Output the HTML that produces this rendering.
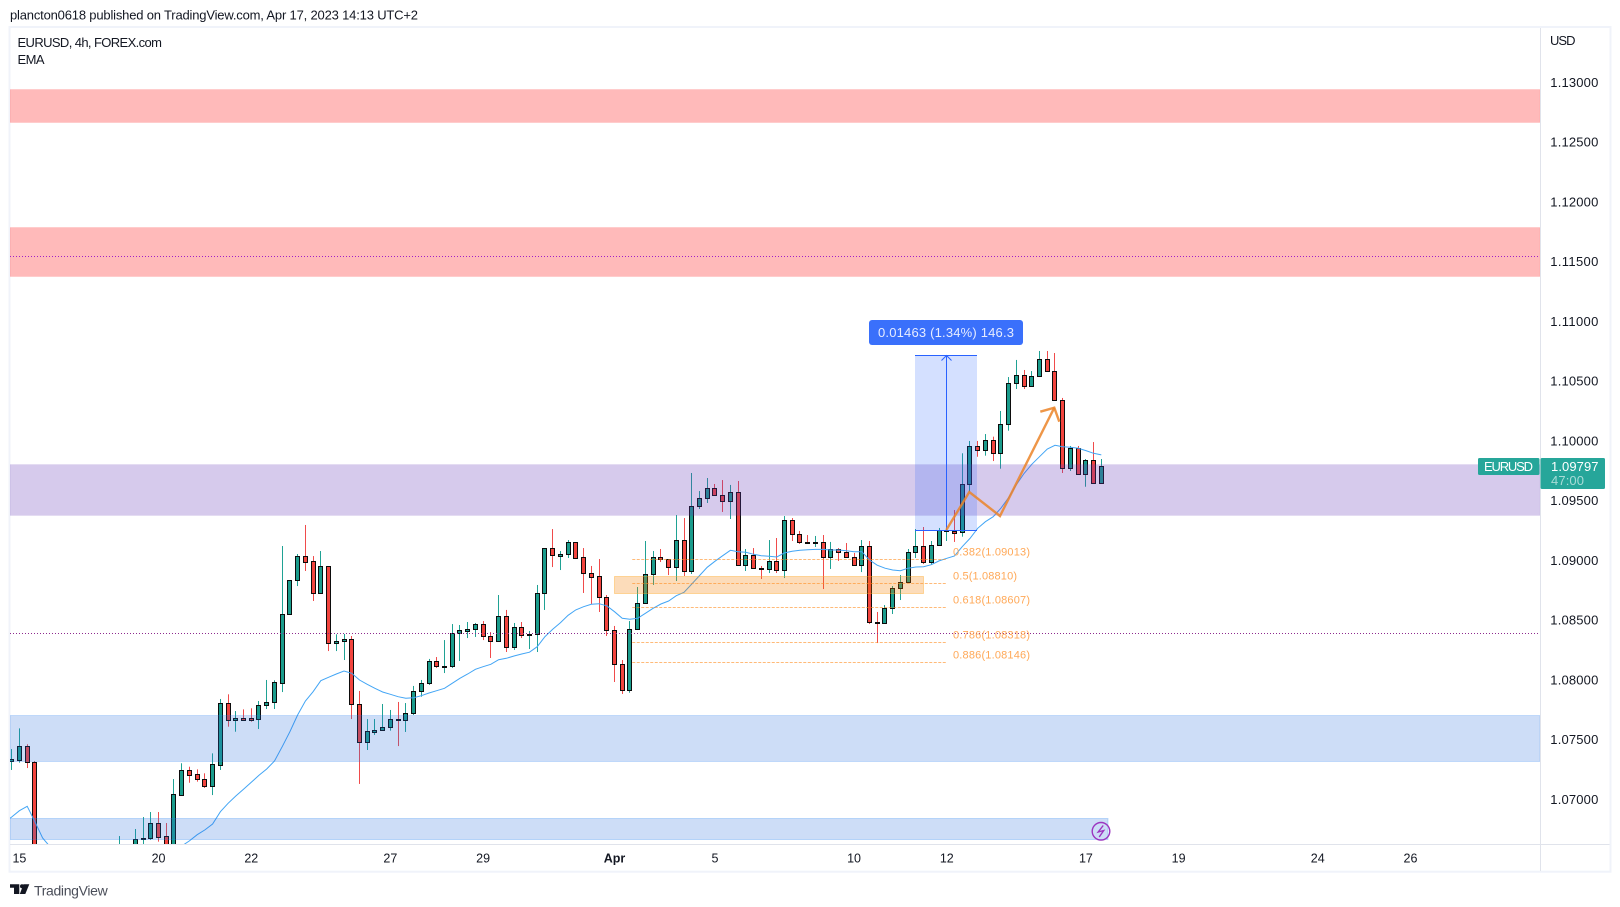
<!DOCTYPE html>
<html lang="en">
<head>
<meta charset="utf-8">
<title>EURUSD 4h chart</title>
<style>
html,body{margin:0;padding:0;background:#fff;width:1620px;height:907px;overflow:hidden}
svg{display:block}
text{font-family:"Liberation Sans",sans-serif;fill:#131722}
</style>
</head>
<body>
<svg id="chart" xmlns="http://www.w3.org/2000/svg" width="1620" height="907" viewBox="0 0 1620 907">
  <defs><clipPath id="plot-clip"><rect x="10" y="28" width="1530.5" height="816.5"/></clipPath></defs>
  <rect x="0" y="0" width="1620" height="907" fill="#ffffff"/>
  <text x="10" y="19.5" font-size="13" textLength="408" lengthAdjust="spacing">plancton0618 published on TradingView.com, Apr 17, 2023 14:13 UTC+2</text>
  <rect x="9.5" y="27" width="1601" height="844.7" fill="#ffffff" stroke="#f0f3fa" stroke-width="2"/>

  <g id="plot" clip-path="url(#plot-clip)">
    <g id="candles"></g>
    <g id="ema"></g>
    <g>
      <rect x="10" y="89.5" width="1530" height="33" fill="rgba(255,82,82,.4)" stroke="rgba(255,82,82,.12)"/>
      <rect x="10" y="227.5" width="1530" height="49" fill="rgba(255,82,82,.4)" stroke="rgba(255,82,82,.12)"/>
      <rect x="10" y="464.5" width="1530" height="51" fill="rgba(103,58,183,.27)" stroke="rgba(103,58,183,.05)"/>
      <rect x="10" y="715.5" width="1530" height="46" fill="rgba(41,110,220,.23)" stroke="rgba(33,130,243,.2)"/>
      <rect x="10" y="818.5" width="1098" height="21" fill="rgba(41,110,220,.23)" stroke="rgba(33,130,243,.25)"/>
      <line x1="10" x2="1540" y1="256.5" y2="256.5" stroke="#a020c8" stroke-width="1" stroke-dasharray="1 2"/>
      <line x1="10" x2="1540" y1="633.5" y2="633.5" stroke="#8e2a8e" stroke-width="1" stroke-dasharray="1 2"/>
      <rect x="614.5" y="576.5" width="309" height="17" fill="rgba(245,124,0,.27)" stroke="rgba(255,167,38,.4)"/>
      <g id="fib"></g>
      <rect x="915" y="355" width="62" height="175.5" fill="rgba(41,98,255,.2)"/>
      <line x1="915" x2="977" y1="355.5" y2="355.5" stroke="#2962ff" stroke-width="1"/>
      <line x1="915" x2="977" y1="530.5" y2="530.5" stroke="#2962ff" stroke-width="1"/>
      <line x1="946.5" x2="946.5" y1="356" y2="530" stroke="#2962ff" stroke-width="1"/>
      <path d="M941.5 360.5 L946.5 355.5 L951.5 360.5" fill="none" stroke="#2962ff" stroke-width="1"/>
      <polyline points="946.3,530 969.3,492 1000,516 1054.3,407.7" fill="none" stroke="rgba(235,132,40,.85)" stroke-width="2.4"/>
      <polyline points="1040.3,411.7 1054.3,407.7 1059.3,421.7" fill="none" stroke="rgba(235,132,40,.85)" stroke-width="2.4"/>
      <circle cx="1101" cy="831.3" r="8.8" fill="none" stroke="#9c36c0" stroke-width="1.4"/>
      <path d="M1103.2 825.5 L1098.2 832 L1103.7 830.5 L1099.2 837" fill="none" stroke="#9c36c0" stroke-width="1.4"/>
    </g>
  </g>

  <rect x="869" y="320" width="154" height="25" rx="3" fill="#3a70fb"/>
  <text x="878" y="337" font-size="13" textLength="136" lengthAdjust="spacing" style="fill:#e6ecff">0.01463 (1.34%) 146.3</text>

  <line x1="1540.5" x2="1540.5" y1="28" y2="871" stroke="#e0e3eb" stroke-width="1"/>
  <line x1="10" x2="1609.5" y1="844.5" y2="844.5" stroke="#e0e3eb" stroke-width="1"/>
  <g id="price-axis"></g>
  <g id="time-axis"></g>

  <text x="17.5" y="47" font-size="13" textLength="144.5" lengthAdjust="spacing">EURUSD, 4h, FOREX.com</text>
  <text x="17.5" y="64" font-size="13" textLength="27" lengthAdjust="spacing">EMA</text>
  <text x="1550" y="45" font-size="13" textLength="25.5" lengthAdjust="spacing">USD</text>

  <rect x="1478" y="458" width="61.5" height="17" rx="1.5" fill="#26a69a"/>
  <text x="1484" y="471" font-size="13" textLength="49" lengthAdjust="spacing" style="fill:#ffffff">EURUSD</text>
  <rect x="1540.5" y="458" width="64.5" height="31" rx="1.5" fill="#26a69a"/>
  <text x="1551" y="471" font-size="13" textLength="47.5" lengthAdjust="spacing" style="fill:#ffffff">1.09797</text>
  <text x="1551" y="485" font-size="13" textLength="33" lengthAdjust="spacing" style="fill:#ffffff;fill-opacity:.6">47:00</text>

  <g fill="#131722">
    <polygon points="10,884.3 19.3,884.3 19.3,894 14,894 14,887.8 10,887.8"/>
    <circle cx="22" cy="886.2" r="2"/>
    <polygon points="23.5,884.3 29.3,884.3 25.3,894 19.8,894"/>
  </g>
  <text x="34" y="895.5" font-size="14" textLength="73.7" lengthAdjust="spacing" style="fill:#4a4e59">TradingView</text>
</svg>

<script>
const opens = [
1.0733,1.07341,1.07453,1.07319,1.06334,1.0620,1.0615,1.0622,1.0618,1.0625,
1.0621,1.0630,1.0636,1.0640,1.0648,1.0655,1.0650,1.06675,1.06683,1.06809,
1.067,1.06543,1.07045,1.07252,1.07219,1.07177,1.07123,1.07299,1.07813,1.07677,
1.07687,1.07687,1.07684,1.07801,1.07821,1.07985,1.08558,1.08842,1.09043,1.09001,
1.08733,1.08959,1.08315,1.08332,1.08348,1.07805,1.07493,1.07575,1.07587,1.07612,
1.07679,1.0767,1.07729,1.07913,1.0798,1.08164,1.08117,1.08122,1.08398,1.0842,
1.08432,1.08474,1.08373,1.08332,1.08541,1.08281,1.08449,1.08382,1.0839,1.08733,
1.0911,1.09048,1.0906,1.0916,1.09035,1.08901,1.08875,1.087,1.08424,1.08139,
1.07927,1.08432,1.0865,1.08892,1.09035,1.09018,1.08951,1.09177,1.08917,1.09461,
1.09528,1.09612,1.09553,1.09508,1.09578,1.08968,1.09051,1.08943,1.08934,1.09001,
1.08926,1.09344,1.09227,1.0916,1.09152,1.0916,1.09035,1.09101,1.09076,1.09035,
1.08968,1.09127,1.08491,1.08482,1.08608,1.08775,1.08825,1.09076,1.09127,1.08993,
1.09135,1.09255,1.09257,1.09246,1.09645,1.09963,1.0993,1.10019,1.09905,1.10147,
1.10491,1.10558,1.10465,1.10549,1.10691,1.10591,1.10348,1.09779,1.09947,1.09729,
1.09846,1.09654];
const closes = [
1.07344,1.07453,1.07319,1.06334,1.0620,1.0615,1.0622,1.0618,1.0625,1.0621,
1.0630,1.0636,1.0640,1.0648,1.0655,1.0650,1.06675,1.06683,1.06809,1.06697,
1.06543,1.07051,1.07252,1.07215,1.07177,1.07123,1.07302,1.07813,1.07676,1.07686,
1.07676,1.07676,1.07801,1.07821,1.07989,1.08558,1.08842,1.09043,1.08998,1.08733,
1.08959,1.08315,1.08332,1.08348,1.07805,1.07493,1.07578,1.07587,1.07612,1.07679,
1.0767,1.07729,1.07913,1.0798,1.08164,1.08122,1.08125,1.08398,1.08424,1.08432,
1.08474,1.08373,1.08332,1.08541,1.08281,1.08449,1.08382,1.0839,1.08733,1.0911,
1.09051,1.0906,1.0916,1.09031,1.08901,1.08872,1.087,1.08424,1.08139,1.07927,
1.08432,1.0865,1.08892,1.09035,1.09018,1.08951,1.09177,1.08917,1.09461,1.09528,
1.09612,1.09553,1.09508,1.09578,1.08968,1.09051,1.08943,1.08934,1.09001,1.08926,
1.09344,1.09227,1.0916,1.09152,1.0916,1.09035,1.09101,1.09076,1.09035,1.08968,
1.09127,1.08491,1.08482,1.08608,1.08775,1.08825,1.09076,1.09127,1.08993,1.09135,
1.09259,1.09263,1.0924,1.09645,1.09963,1.0993,1.10019,1.09905,1.10147,1.10491,
1.10558,1.10465,1.10549,1.10691,1.10591,1.10348,1.09779,1.09947,1.09729,1.09846,
1.09654,1.09796];
const highs = [
1.0743,1.07603,1.0747,1.0733,1.0640,1.0628,1.0625,1.0630,1.0628,1.0632,
1.0634,1.0640,1.0645,1.0652,1.06702,1.0660,1.06761,1.06861,1.06903,1.06903,
1.06811,1.07179,1.07311,1.07282,1.0726,1.07227,1.07394,1.07849,1.07888,1.07748,
1.07762,1.07771,1.07832,1.08008,1.08005,1.09129,1.08842,1.09062,1.09305,1.09045,
1.09087,1.08959,1.0839,1.08393,1.08376,1.07916,1.07681,1.07681,1.07807,1.07757,
1.07824,1.07815,1.07958,1.08008,1.08184,1.082,1.08342,1.08476,1.08468,1.08493,
1.08485,1.08501,1.08409,1.08719,1.08594,1.08485,1.08493,1.08418,1.08803,1.0911,
1.09271,1.09087,1.09179,1.0916,1.09112,1.08962,1.0902,1.08719,1.0846,1.08175,
1.08501,1.08786,1.09171,1.09087,1.09104,1.09018,1.09388,1.09363,1.0974,1.09589,
1.09698,1.09648,1.09681,1.0964,1.09673,1.09104,1.09112,1.08962,1.09179,1.09196,
1.0938,1.09363,1.09255,1.09221,1.09213,1.09221,1.09163,1.09112,1.09154,1.09071,
1.09179,1.09171,1.08577,1.08635,1.08794,1.08886,1.09104,1.09271,1.09288,1.09171,
1.0928,1.09288,1.0943,1.09905,1.10008,1.10008,1.10066,1.10044,1.10259,1.10543,
1.10686,1.10602,1.10593,1.10761,1.10761,1.10744,1.10368,1.09966,1.09966,1.09857,
1.09999,1.09857];
const lows = [
1.07255,1.07316,1.07271,1.0625,1.0612,1.0608,1.0605,1.0612,1.0610,1.0616,
1.0614,1.0622,1.0628,1.0632,1.0642,1.0645,1.0645,1.06619,1.06669,1.06655,
1.06501,1.06501,1.0704,1.07148,1.07157,1.07104,1.07045,1.07255,1.07617,1.07575,
1.07667,1.07659,1.07598,1.07765,1.07765,1.07907,1.08558,1.08794,1.0892,1.08669,
1.08733,1.0825,1.0825,1.08175,1.07681,1.07138,1.07422,1.07548,1.07587,1.07584,
1.07455,1.07573,1.07715,1.07868,1.07966,1.08108,1.08066,1.08108,1.08167,1.08359,
1.08368,1.08342,1.08192,1.08332,1.08242,1.08259,1.08359,1.08267,1.08242,1.08594,
1.08953,1.08928,1.09029,1.0902,1.08736,1.08644,1.08577,1.08376,1.07991,1.07891,
1.07901,1.08432,1.0865,1.08803,1.08995,1.08886,1.08836,1.08878,1.08895,1.09439,
1.09489,1.09553,1.09414,1.09355,1.08968,1.0892,1.08943,1.08853,1.08903,1.08903,
1.08861,1.09171,1.09146,1.09152,1.09121,1.08769,1.08937,1.09004,1.09035,1.08968,
1.08911,1.08476,1.08317,1.08482,1.0856,1.08677,1.08825,1.09029,1.08978,1.0897,
1.09129,1.09171,1.09163,1.09207,1.09583,1.09876,1.09885,1.0984,1.09776,1.10094,
1.10443,1.10443,1.10465,1.10543,1.10591,1.10348,1.0974,1.09757,1.09729,1.09625,
1.09654,1.09654];
const emaValues = [
1.06861,1.06914,1.06951,1.06822,1.06686,1.0661,1.0655,1.0650,1.0646,1.0642,
1.0640,1.0638,1.0637,1.0637,1.0638,1.0639,1.0641,1.0643,1.0646,1.0649,
1.0652,1.0655,1.06619,1.06661,1.06713,1.06753,1.06803,1.06906,1.06976,1.07037,
1.07093,1.07152,1.0721,1.07263,1.0733,1.0745,1.07575,1.07715,1.07832,1.0791,
1.08002,1.0803,1.08058,1.08083,1.08064,1.08008,1.07972,1.07938,1.07907,1.07888,
1.07868,1.07855,1.0786,1.07876,1.07899,1.07918,1.07938,1.0798,1.08022,1.08058,
1.08097,1.08119,1.08139,1.08178,1.08189,1.08209,1.08225,1.0824,1.08286,1.0837,
1.08432,1.08487,1.08549,1.08594,1.08621,1.08641,1.08646,1.08629,1.08579,1.08524,
1.08516,1.08524,1.08566,1.08608,1.08644,1.08669,1.08713,1.08742,1.08811,1.08881,
1.08951,1.09001,1.09048,1.09093,1.09081,1.09076,1.0906,1.09048,1.09043,1.09037,
1.09071,1.09085,1.09093,1.09098,1.09101,1.09101,1.09096,1.09096,1.0909,1.09081,
1.09081,1.09012,1.08968,1.08943,1.08928,1.08922,1.08943,1.08953,1.08956,1.08973,
1.09004,1.09026,1.09045,1.09123,1.09193,1.09277,1.09332,1.09374,1.09445,1.09533,
1.0964,1.09737,1.09813,1.09876,1.09941,1.09972,1.0996,1.09955,1.09947,1.09927,
1.09905,1.09891];
const priceTicks = ["1.13000","1.12500","1.12000","1.11500","1.11000","1.10500","1.10000","1.09500","1.09000","1.08500","1.08000","1.07500","1.07000"];
const timeLabels = ["15","20","22","27","29","Apr","5","10","12","17","19","24","26"];
const timeLabelBars = [1,19,31,49,61,78,91,109,121,139,151,169,181];
const fibLevels = [1.09013,1.08810,1.08607,1.08318,1.08146];
const fibRatios = ["0.382","0.5","0.618","0.786","0.886"];

const NS = 'http://www.w3.org/2000/svg';
function xScale(i){ return 11.7 + 7.728 * i; }
function yScale(p){ return (1.13698 - p) / 0.00008368; }
function make(tag, parent){ const el = document.createElementNS(NS, tag); parent.appendChild(el); return el; }

const candleLayer = document.getElementById('candles');
opens.forEach(function(o, i){
  const c = closes[i];
  const up = c >= o;
  const left = Math.round(xScale(i) - 2.5);
  const top = Math.round(yScale(Math.max(o, c)));
  const bottom = Math.round(yScale(Math.min(o, c)));
  const wick = make('rect', candleLayer);
  
  
  wick.setAttribute('x', left + 2);
  wick.setAttribute('y', yScale(highs[i]));
  wick.setAttribute('width', 1);
  wick.setAttribute('height', Math.max(0, yScale(lows[i]) - yScale(highs[i])));
  wick.setAttribute('fill', up ? '#1fa294' : '#f04b4b');
  const body = make('rect', candleLayer);
  
  
  body.setAttribute('x', left + 0.5);
  body.setAttribute('y', top + 0.5);
  body.setAttribute('width', 4);
  body.setAttribute('height', Math.max(1, bottom - top));
  body.setAttribute('fill', up ? '#1a9c8c' : '#f2443e');
  body.setAttribute('stroke', '#0c0c0c');
  body.setAttribute('stroke-width', 1);
});

const emaLine = make('polyline', document.getElementById('ema'));


emaLine.setAttribute('points', '10,' + yScale(emaValues[0] - 0.0001) + ' ' + emaValues.map(function(v, i){ return xScale(i).toFixed(1) + ',' + yScale(v).toFixed(1); }).join(' '));
emaLine.setAttribute('fill', 'none');
emaLine.setAttribute('stroke', '#42a5f5');
emaLine.setAttribute('stroke-width', 1);

const fibLayer = document.getElementById('fib');
fibLevels.forEach(function(level, i){
  const y = Math.round(yScale(level)) - 0.5;
  const line = make('line', fibLayer);
  
  
  line.setAttribute('x1', xScale(80.3));
  line.setAttribute('x2', 946);
  line.setAttribute('y1', y);
  line.setAttribute('y2', y);
  line.setAttribute('stroke', 'rgba(255,140,30,.6)');
  line.setAttribute('stroke-width', 1);
  line.setAttribute('stroke-dasharray', '3 1.5');
  const label = make('text', fibLayer);
  
  
  label.setAttribute('x', 953);
  label.setAttribute('y', y - 4);
  label.setAttribute('font-size', 11);
  label.setAttribute('textLength', fibRatios[i].length === 3 ? 64 : 77);
  label.setAttribute('lengthAdjust', 'spacing');
  label.setAttribute('style', 'fill:#ff9f45;fill-opacity:.9');
  label.textContent = fibRatios[i] + '(' + level.toFixed(5) + ')';
});

const priceAxis = document.getElementById('price-axis');
priceTicks.forEach(function(t){
  const label = make('text', priceAxis);
  
  
  label.setAttribute('x', 1550.3);
  label.setAttribute('y', yScale(parseFloat(t)) + 3.5);
  label.setAttribute('font-size', 13);
  label.setAttribute('textLength', 48);
  label.setAttribute('lengthAdjust', 'spacing');
  label.textContent = t;
});

const timeAxis = document.getElementById('time-axis');
timeLabels.forEach(function(t, i){
  const label = make('text', timeAxis);
  
  
  label.setAttribute('x', xScale(timeLabelBars[i]));
  label.setAttribute('y', 862.5);
  label.setAttribute('font-size', 12.5);
  label.setAttribute('text-anchor', 'middle');
  if (t === 'Apr') { label.setAttribute('font-weight', 'bold'); }
  label.textContent = t;
});
</script>
</body>
</html>
